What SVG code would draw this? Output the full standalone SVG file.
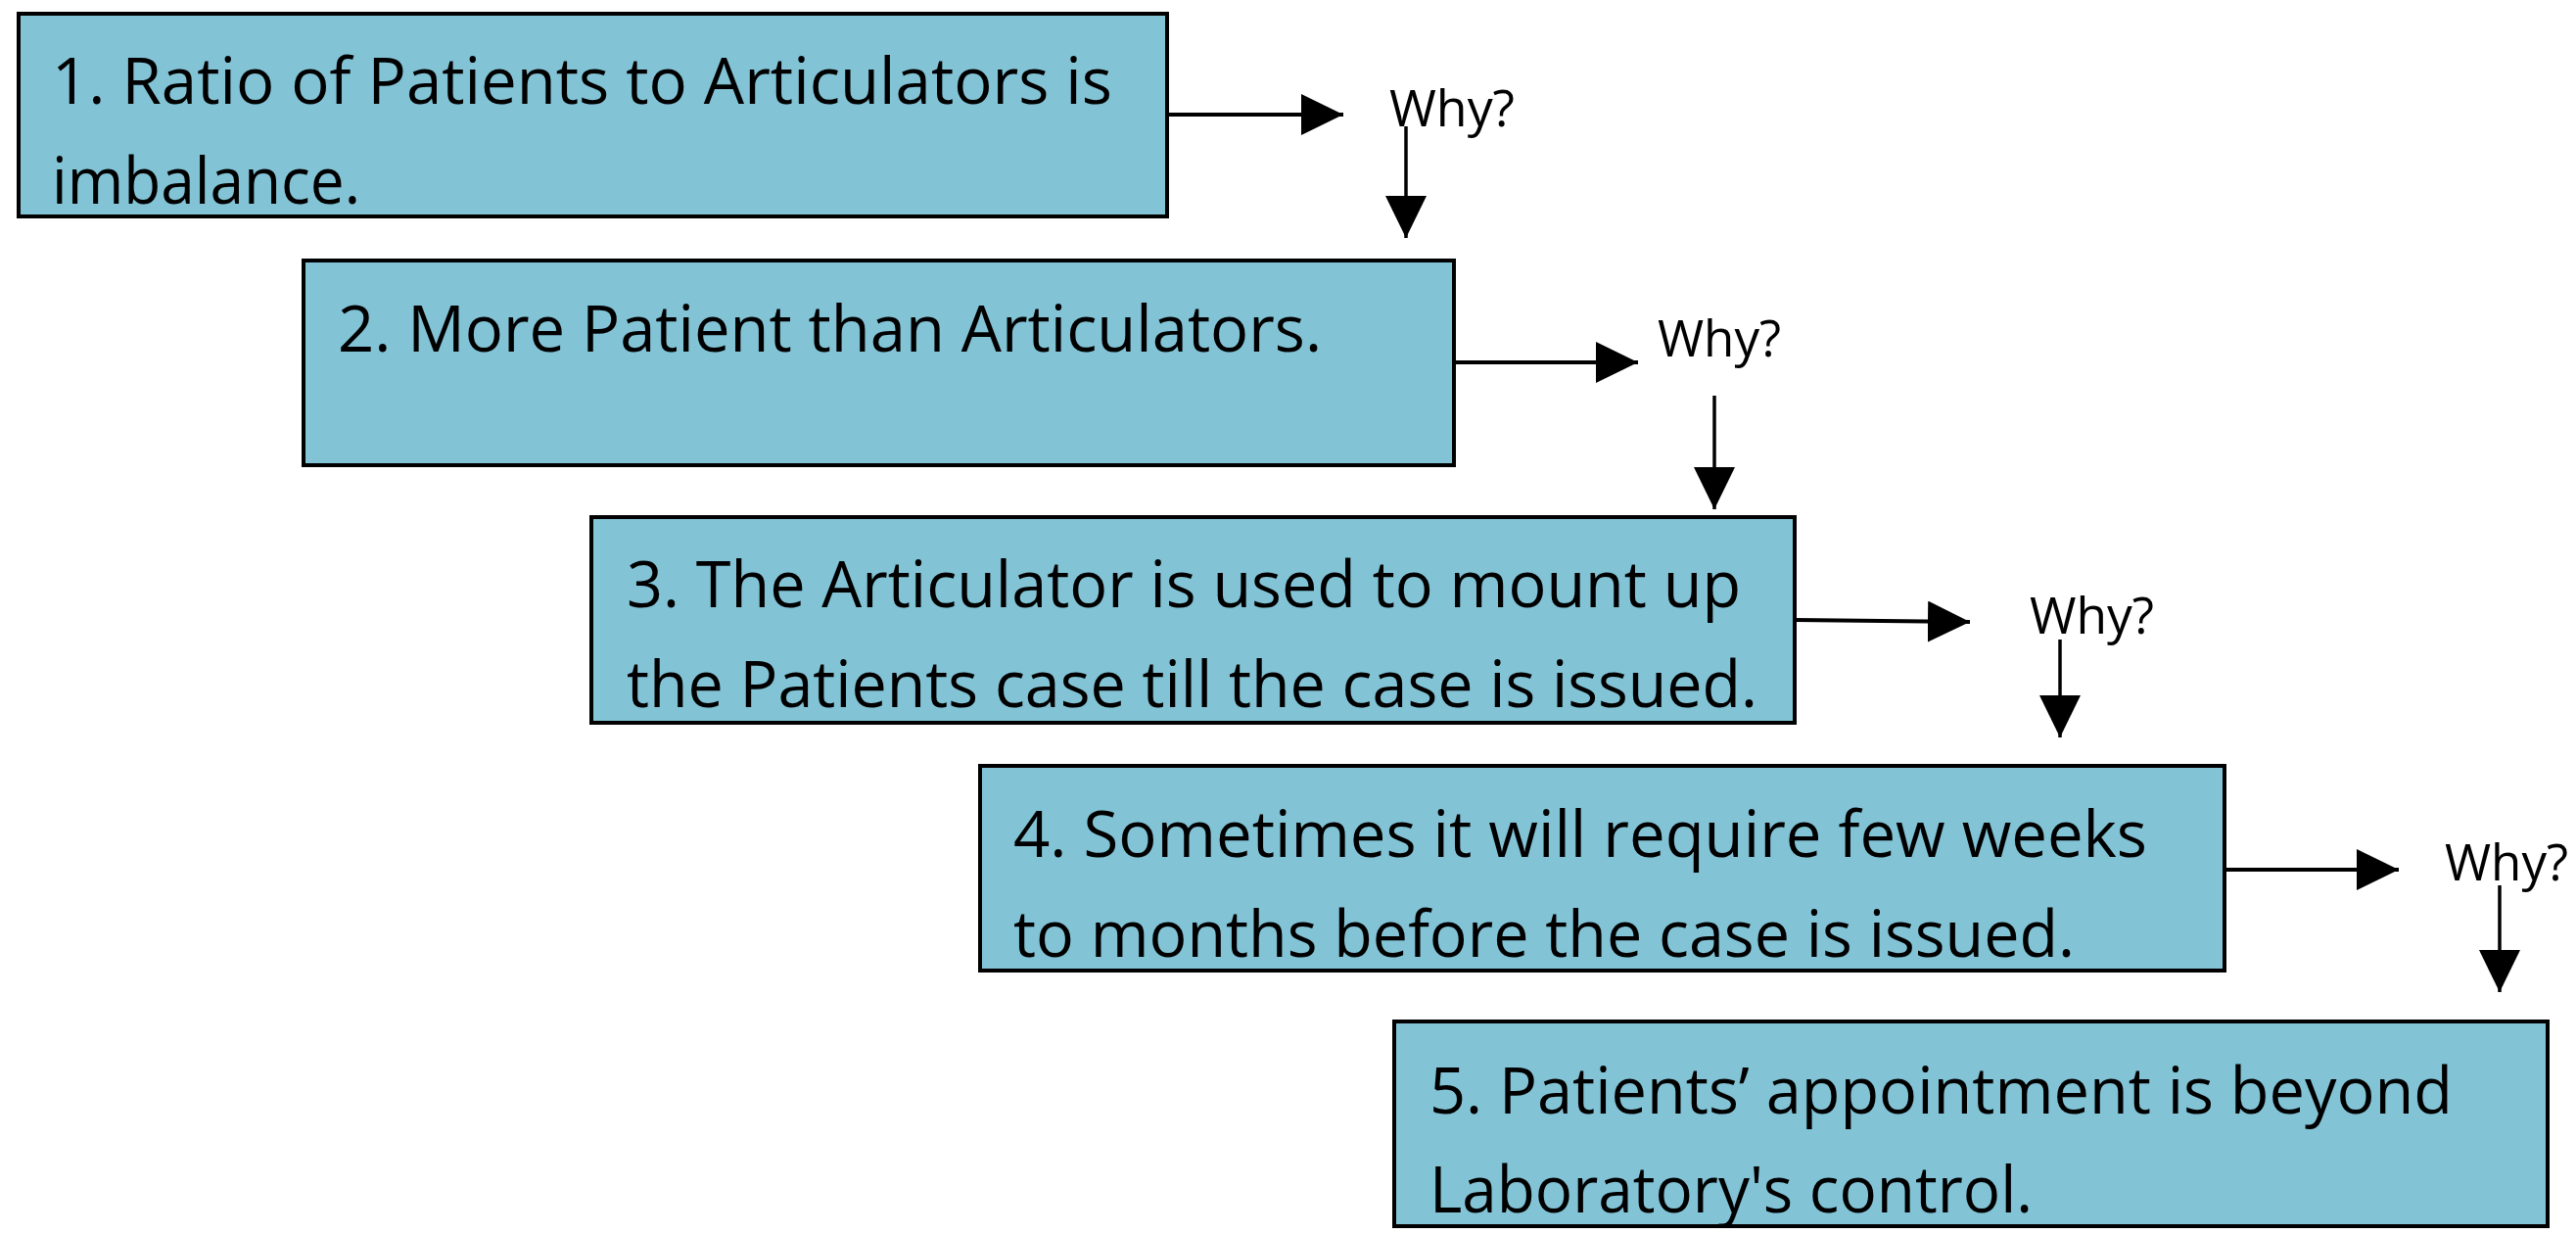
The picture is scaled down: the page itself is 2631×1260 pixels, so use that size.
<svg xmlns="http://www.w3.org/2000/svg" width="2631" height="1260" viewBox="0 0 2631 1260">
<defs>
<style>
.box{fill:#82C3D6;stroke:#000;stroke-width:4}
.t{font-family:"Open Sans","Noto Sans",sans-serif;font-size:65px;fill:#000}
.w{font-family:"Open Sans","Noto Sans",sans-serif;font-size:51px;fill:#000}
.c{stroke:#000;stroke-width:4;fill:none}
.cv{stroke:#000;stroke-width:3.5;fill:none}
</style>
<marker id="ah" markerUnits="userSpaceOnUse" markerWidth="44" markerHeight="44" viewBox="0 0 44 44" refX="43" refY="21" orient="auto">
<path d="M0,0 L43,21 L0,42 Z" fill="#000"/>
</marker>
</defs>
<rect width="2631" height="1260" fill="#fff"/>
<g id="node1">
<rect class="box" x="19" y="14" width="1173" height="207"/>
<text class="t" x="53" y="106" textLength="1083" lengthAdjust="spacingAndGlyphs">1. Ratio of Patients to Articulators is</text>
<text class="t" x="53" y="208" textLength="315" lengthAdjust="spacingAndGlyphs">imbalance.</text>
</g>
<g id="node2">
<rect class="box" x="310" y="266" width="1175" height="209"/>
<text class="t" x="345" y="359" textLength="1005" lengthAdjust="spacingAndGlyphs">2. More Patient than Articulators.</text>
</g>
<g id="node3">
<rect class="box" x="604" y="528" width="1229" height="210"/>
<text class="t" x="640" y="620" textLength="1138" lengthAdjust="spacingAndGlyphs">3. The Articulator is used to mount up</text>
<text class="t" x="640" y="722" textLength="1155" lengthAdjust="spacingAndGlyphs">the Patients case till the case is issued.</text>
</g>
<g id="node4">
<rect class="box" x="1001" y="782" width="1271" height="209"/>
<text class="t" x="1035" y="875" textLength="1158" lengthAdjust="spacingAndGlyphs">4. Sometimes it will require few weeks</text>
<text class="t" x="1035" y="977" textLength="1084" lengthAdjust="spacingAndGlyphs">to months before the case is issued.</text>
</g>
<g id="node5">
<rect class="box" x="1424" y="1043" width="1178" height="209"/>
<text class="t" x="1460" y="1137" textLength="1045" lengthAdjust="spacingAndGlyphs">5. Patients’ appointment is beyond</text>
<text class="t" x="1460" y="1238" textLength="616" lengthAdjust="spacingAndGlyphs">Laboratory's control.</text>
</g>
<g id="labels">
<text class="w" x="1419" y="129" textLength="128" lengthAdjust="spacingAndGlyphs">Why?</text>
<text class="w" x="1693" y="364" textLength="126" lengthAdjust="spacingAndGlyphs">Why?</text>
<text class="w" x="2073" y="647" textLength="127" lengthAdjust="spacingAndGlyphs">Why?</text>
<text class="w" x="2497" y="899" textLength="126" lengthAdjust="spacingAndGlyphs">Why?</text>
</g>
<g id="connectors">
<path class="c" d="M1192,117 L1372,117" marker-end="url(#ah)"/>
<path class="cv" d="M1436,129 L1436,243" marker-end="url(#ah)"/>
<path class="c" d="M1485,370 L1673,370" marker-end="url(#ah)"/>
<path class="cv" d="M1751,404 L1751,520" marker-end="url(#ah)"/>
<path class="c" d="M1833,633 L2012,635" marker-end="url(#ah)"/>
<path class="cv" d="M2104,653 L2104,753" marker-end="url(#ah)"/>
<path class="c" d="M2272,888 L2450,888" marker-end="url(#ah)"/>
<path class="cv" d="M2553,904 L2553,1013" marker-end="url(#ah)"/>
</g>
</svg>
